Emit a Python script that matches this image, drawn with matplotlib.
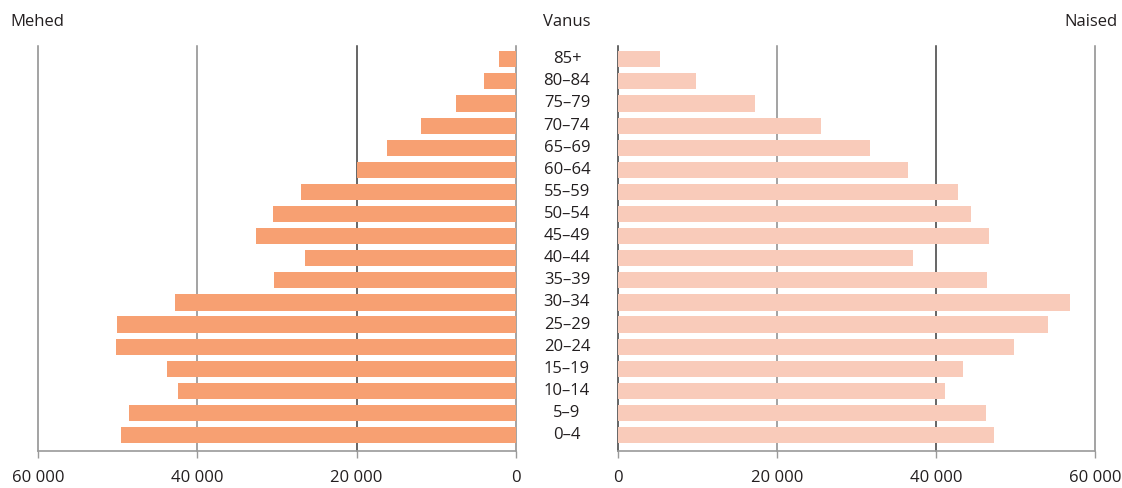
import numpy as np
import matplotlib.pyplot as plt
from matplotlib.ticker import FuncFormatter

plt.rcParams['font.family'] = ['Open Sans', 'DejaVu Sans']

# age groups, bottom to top
ages = ['0–4', '5–9', '10–14', '15–19', '20–24', '25–29', '30–34', '35–39', '40–44',
        '45–49', '50–54', '55–59', '60–64', '65–69', '70–74', '75–79', '80–84', '85+']
men = [49600, 48600, 42400, 43800, 50200, 50100, 42800, 30350, 26450,
       32600, 30450, 27050, 20000, 16200, 11900, 7500, 4000, 2100]
women = [47250, 46350, 41100, 43400, 49750, 54150, 56800, 46400, 37100,
         46680, 44400, 42780, 36480, 31700, 25500, 17200, 9800, 5270]
ticks = [0, 20000, 40000, 60000]

men_color = '#f7a072'
women_color = '#f9cbba'
grid_dark = '#3c3c3c'
grid_light = '#8a8a8a'
text_color = '#231f20'
fs = 12

W, H = 1122, 488
fig = plt.figure(figsize=(W / 100, H / 100), dpi=100)

top, bottom = 46, 451
ax_l = fig.add_axes([38 / W, (H - bottom) / H, (516 - 38) / W, (bottom - top) / H])
ax_r = fig.add_axes([618 / W, (H - bottom) / H, (1095 - 618) / W, (bottom - top) / H])

y = np.arange(len(ages))
fmt = FuncFormatter(lambda v, p: f'{int(v):,}'.replace(',', ' '))

# grid line shades as seen in the reference
shades_l = [grid_light, grid_dark, grid_light, grid_light]
shades_r = [grid_dark, grid_light, grid_dark, grid_light]

for ax, vals, col, shades in [(ax_l, men, men_color, shades_l), (ax_r, women, women_color, shades_r)]:
    ax.barh(y, vals, height=0.73, color=col, zorder=2)
    ax.set_ylim(-0.72, len(ages) - 0.4)
    ax.set_xlim(0, 60000)
    ax.set_xticks(ticks)
    ax.xaxis.set_major_formatter(fmt)
    ax.set_yticks([])
    for t, c in zip(ticks, shades):
        ax.axvline(t, color=c, lw=1.1, zorder=1, clip_on=False)
    for s in ['top', 'left', 'right']:
        ax.spines[s].set_visible(False)
    ax.spines['bottom'].set_color('#9a9a9a')
    ax.spines['bottom'].set_linewidth(1.2)
    ax.tick_params(axis='x', length=5, width=1, color='#9a9a9a', pad=9,
                   labelsize=fs, labelcolor=text_color)

ax_l.invert_xaxis()

# age labels in the middle
mid = 567 / W
for i, a in enumerate(ages):
    yy = ax_l.transData.transform((0, i))[1]
    fig.text(mid, yy / fig.dpi / fig.get_figheight(), a, ha='center', va='center',
             fontsize=fs, color=text_color)

fig.text(10 / W, 1 - 22 / H, 'Mehed', ha='left', va='center', fontsize=fs, color=text_color)
fig.text(mid, 1 - 22 / H, 'Vanus', ha='center', va='center', fontsize=fs, color=text_color)
fig.text(1117 / W, 1 - 22 / H, 'Naised', ha='right', va='center', fontsize=fs, color=text_color)

fig.savefig('out.png', dpi=100)
